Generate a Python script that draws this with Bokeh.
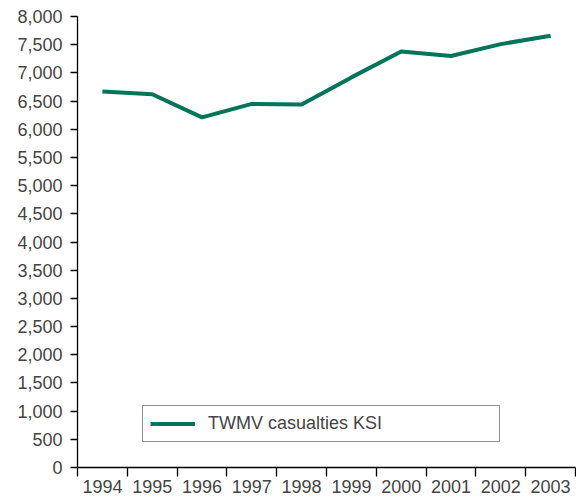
from bokeh.plotting import figure
from bokeh.models import Range1d, FixedTicker, NumeralTickFormatter, Legend, LegendItem, ColumnDataSource
from bokeh.embed import file_html
from bokeh.resources import INLINE

years = [1994, 1995, 1996, 1997, 1998, 1999, 2000, 2001, 2002, 2003]
ksi = [6670, 6620, 6210, 6450, 6440, 6920, 7380, 7300, 7510, 7660]
y_ticks = list(range(0, 8001, 500))
series_name = "TWMV casualties KSI"

FONT = "Liberation Sans"
TEXT = "#444444"
GREEN = "#007559"

p = figure(width=576, height=500, output_backend="svg", toolbar_location=None,
           x_range=Range1d(years[0] - 0.5, years[-1] + 0.5), y_range=Range1d(0, 8000),
           min_border_left=77, min_border_right=1, min_border_top=16, min_border_bottom=33)
p.outline_line_color = None
p.grid.visible = False

src = ColumnDataSource(dict(x=years, y=ksi))
r = p.line("x", "y", source=src, line_color=GREEN, line_width=4)

# x axis: labels at category centres, ticks at boundaries
xa = p.xaxis[0]
xa.ticker = FixedTicker(ticks=years, minor_ticks=[y - 0.5 for y in years] + [years[-1] + 0.5])
xa.major_label_overrides = {y: str(y) for y in years}
xa.major_tick_out = 0
xa.major_tick_in = 0
xa.minor_tick_out = 9
xa.minor_tick_in = 0
xa.minor_tick_line_color = "black"
xa.axis_line_color = "black"
xa.axis_line_width = 1.3
xa.minor_tick_line_width = 1.3
xa.major_label_text_font = FONT
xa.major_label_text_font_size = "18px"
xa.major_label_text_color = TEXT
xa.major_label_standoff = 3

ya = p.yaxis[0]
ya.ticker = FixedTicker(ticks=y_ticks, minor_ticks=[])
ya.formatter = NumeralTickFormatter(format="0,0")
ya.major_tick_out = 7
ya.major_tick_in = 0
ya.minor_tick_out = 0
ya.major_tick_line_color = "black"
ya.major_tick_line_width = 1.3
ya.axis_line_color = "black"
ya.axis_line_width = 1.3
ya.major_label_text_font = FONT
ya.major_label_text_font_size = "18px"
ya.major_label_text_color = TEXT
ya.major_label_standoff = 8

legend = Legend(items=[LegendItem(label=series_name, renderers=[r])],
                location=(65, 25), margin=0, padding=7, spacing=0,
                glyph_width=45, glyph_height=19, label_height=19, label_width=284,
                label_standoff=13,
                label_text_font=FONT, label_text_font_size="18px", label_text_color=TEXT,
                border_line_color="#222222", border_line_width=1.3,
                background_fill_color="white", background_fill_alpha=1)
p.add_layout(legend, "center")

open("out.html", "w").write(file_html(p, INLINE))
